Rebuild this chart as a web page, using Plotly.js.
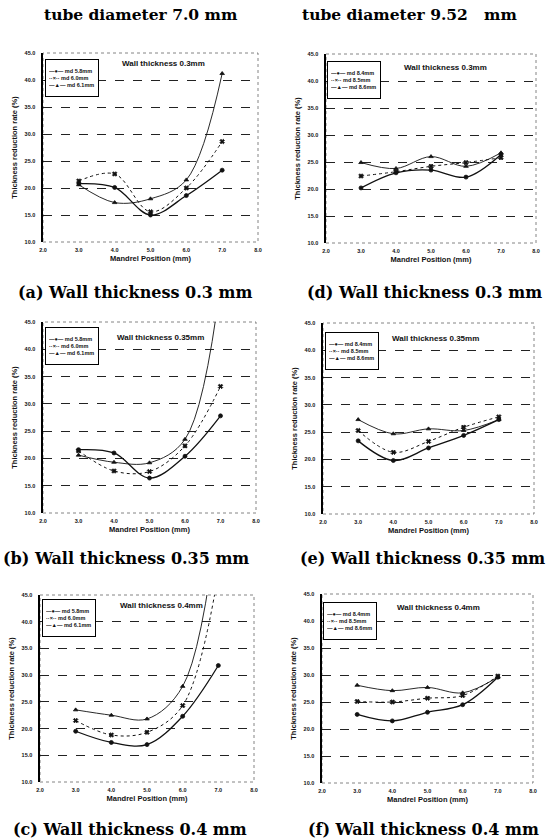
<!DOCTYPE html>
<html>
<head>
<meta charset="utf-8">
<script src="https://cdn.plot.ly/plotly-3.0.1.min.js"></script>
<style>html,body{margin:0;padding:0;background:#fff;}#chart{width:547px;height:838px;}</style>
</head>
<body>
<div id="chart"></div>
<script>
// ---------- DATA ----------
const mandrelPos = [3.0, 4.0, 5.0, 6.0, 7.0];
const names70 = ['md 5.8mm', 'md 6.0mm', 'md 6.1mm'];
const names952 = ['md 8.4mm', 'md 8.5mm', 'md 8.6mm'];
const colTitles = ['tube diameter 7.0 mm', 'tube diameter 9.52\u00a0\u00a0\u00a0mm'];
const captions = ['(a) Wall thickness 0.3 mm', '(d) Wall thickness 0.3 mm',
                  '(b) Wall thickness 0.35 mm', '(e) Wall thickness 0.35 mm',
                  '(c) Wall thickness 0.4 mm', '(f) Wall thickness 0.4 mm'];
const innerLabels = ['Wall thickness 0.3mm', 'Wall thickness 0.3mm',
                     'Wall thickness 0.35mm', 'Wall thickness 0.35mm',
                     'Wall thickness 0.4mm', 'Wall thickness 0.4mm'];
const yTicks = [10, 15, 20, 25, 30, 35, 40, 45];
const xTicks = [2, 3, 4, 5, 6, 7, 8];

// (a) tube 7.0, wall 0.3
const a_md58 = [20.8, 20.1, 15.0, 18.6, 23.3];
const a_md60 = [21.3, 22.6, 15.6, 20.0, 28.6];
const a_md61 = [20.6, 17.3, 18.0, 21.5, 41.2];
// (d) tube 9.52, wall 0.3
const d_md84 = [20.2, 23.0, 23.5, 22.2, 26.4];
const d_md85 = [22.4, 23.2, 24.2, 24.9, 25.8];
const d_md86 = [24.9, 23.8, 26.0, 24.2, 26.7];
// (b) tube 7.0, wall 0.35
const b_md58 = [21.6, 21.0, 16.4, 20.4, 27.8];
const b_md60 = [21.4, 17.7, 17.6, 22.3, 33.2];
const b_md61 = [20.6, 19.3, 19.2, 23.5, 52.0];
// (e) tube 9.52, wall 0.35
const e_md84 = [23.4, 19.8, 22.1, 24.4, 27.3];
const e_md85 = [25.3, 21.3, 23.3, 25.9, 27.8];
const e_md86 = [27.3, 24.7, 25.6, 25.3, 27.3];
// (c) tube 7.0, wall 0.4
const c_md58 = [19.5, 17.4, 17.0, 22.3, 31.8];
const c_md60 = [21.5, 18.8, 19.3, 24.3, 49.0];
const c_md61 = [23.5, 22.5, 21.8, 27.9, 60.0];
// (f) tube 9.52, wall 0.4
const f_md84 = [22.7, 21.5, 23.1, 24.5, 29.6];
const f_md85 = [25.1, 25.0, 25.7, 26.2, 29.8];
const f_md86 = [28.1, 27.1, 27.7, 26.7, 29.6];

// ---------- BUILD ----------
const W = 547, H = 838;
const px = v => v / W, py = v => 1 - v / H;

const panels = [
  {s: [a_md58, a_md60, a_md61], names: names70, dom: [43, 258, 53, 242], leg: [45, 59], lab: [5.35, 43.0]},
  {s: [d_md84, d_md85, d_md86], names: names952, dom: [326, 536, 54, 243], leg: [327, 61], lab: [5.4, 42.5]},
  {s: [b_md58, b_md60, b_md61], names: names70, dom: [43, 256, 322, 513], leg: [45, 327], lab: [5.3, 42.1]},
  {s: [e_md84, e_md85, e_md86], names: names952, dom: [323, 534, 323, 514], leg: [325, 332], lab: [5.2, 42.1]},
  {s: [c_md58, c_md60, c_md61], names: names70, dom: [40, 254, 595, 782], leg: [42, 599], lab: [5.42, 43.1]},
  {s: [f_md84, f_md85, f_md86], names: names952, dom: [322, 533, 594, 783], leg: [323, 602], lab: [5.32, 42.5]}
];

const styles = [
  {dash: 'solid', width: 1.3, symbol: 'circle', size: 4},
  {dash: 'dot', width: 1.0, symbol: 'x', size: 4},
  {dash: 'solid', width: 0.9, symbol: 'triangle-up', size: 4}
];
const legSamples = ['\u2014\u25CF\u2014', '\u00B7\u00B7\u00D7\u00B7\u00B7', '\u2014\u25B2\u2014'];

const ink = '#111';
const tickFont = {family: 'Liberation Sans, Arial', size: 5.5, color: ink, weight: 'bold'};
const axFont = {family: 'Liberation Sans, Arial', size: 7.5, color: ink, weight: 'bold'};
const bigFont = {family: 'DejaVu Serif, serif', size: 16, color: '#000', weight: 'bold'};

const traces = [];
const layout = {
  width: W, height: H,
  margin: {l: 0, r: 0, t: 0, b: 0},
  paper_bgcolor: '#fff', plot_bgcolor: '#fff',
  showlegend: false,
  annotations: [], shapes: []
};

panels.forEach((p, i) => {
  const n = i + 1;
  const xa = n === 1 ? 'x' : 'x' + n;
  const ya = n === 1 ? 'y' : 'y' + n;
  const xk = n === 1 ? 'xaxis' : 'xaxis' + n;
  const yk = n === 1 ? 'yaxis' : 'yaxis' + n;
  p.s.forEach((vals, j) => {
    const st = styles[j];
    traces.push({
      x: mandrelPos, y: vals, name: p.names[j], type: 'scatter', mode: 'lines+markers',
      xaxis: xa, yaxis: ya,
      line: {color: ink, width: st.width, dash: st.dash, shape: 'spline', smoothing: 1},
      marker: {color: ink, symbol: st.symbol, size: st.size, line: {color: ink, width: 0.8}}
    });
  });
  const [x0, x1, y0, y1] = p.dom;
  layout[xk] = {
    domain: [px(x0), px(x1)], anchor: ya, range: [2, 8],
    tickmode: 'array', tickvals: xTicks, tickformat: '.1f',
    tickfont: tickFont, showgrid: false, zeroline: false, showline: false, ticks: '',
    ticklabelstandoff: 3,
    title: {text: 'Mandrel Position (mm)', font: axFont, standoff: 4}
  };
  layout[yk] = {
    domain: [py(y1), py(y0)], anchor: xa, range: [10, 45],
    tickmode: 'array', tickvals: yTicks, tickformat: '.1f',
    tickfont: tickFont, showgrid: true, gridcolor: '#222', griddash: 'dash', gridwidth: 1,
    zeroline: false, showline: true, linecolor: '#000', linewidth: 1.6, ticks: '',
    ticklabelstandoff: 5,
    title: {text: 'Thickness reduction rate (%)', font: axFont, standoff: 6}
  };
  // dotted frame
  layout.shapes.push({
    type: 'rect', xref: xa + ' domain', yref: ya + ' domain', x0: 0, x1: 1, y0: 0, y1: 1,
    line: {color: '#666', width: 0.8, dash: 'dot'}, layer: 'below'
  });
  // inner label
  layout.annotations.push({
    xref: xa, yref: ya, x: p.lab[0], y: p.lab[1], text: innerLabels[i], showarrow: false,
    xanchor: 'center', yanchor: 'middle',
    font: {family: 'Liberation Sans, Arial', size: 8, color: ink, weight: 'bold'}
  });
  // legend box
  layout.annotations.push({
    xref: 'paper', yref: 'paper', x: px(p.leg[0]), y: py(p.leg[1]),
    xanchor: 'left', yanchor: 'top', align: 'left', valign: 'middle',
    text: p.names.map((nm, j) => legSamples[j] + ' ' + nm).join('<br>'),
    showarrow: false, bgcolor: '#fff', bordercolor: '#000', borderwidth: 1, borderpad: 3,
    width: 46, height: 30,
    font: {family: 'Liberation Sans, Arial', size: 5.5, color: ink, weight: 'bold'}
  });
});

// column headers
layout.annotations.push({xref: 'paper', yref: 'paper', x: px(141), y: py(14), text: colTitles[0],
  xanchor: 'center', yanchor: 'middle',
  showarrow: false, font: Object.assign({}, bigFont, {size: 15.5})});
layout.annotations.push({xref: 'paper', yref: 'paper', x: px(409), y: py(14), text: colTitles[1],
  xanchor: 'center', yanchor: 'middle',
  showarrow: false, font: Object.assign({}, bigFont, {size: 15.5})});
// captions
const capPos = [[135, 292], [424, 292], [126, 558], [422, 558], [130, 829], [423, 829]];
captions.forEach((c, i) => {
  layout.annotations.push({xref: 'paper', yref: 'paper', x: px(capPos[i][0]), y: py(capPos[i][1]),
    xanchor: 'center', yanchor: 'middle',
    text: c, showarrow: false, font: bigFont});
});

Plotly.newPlot('chart', traces, layout, {staticPlot: true, displayModeBar: false});
</script>
</body>
</html>
